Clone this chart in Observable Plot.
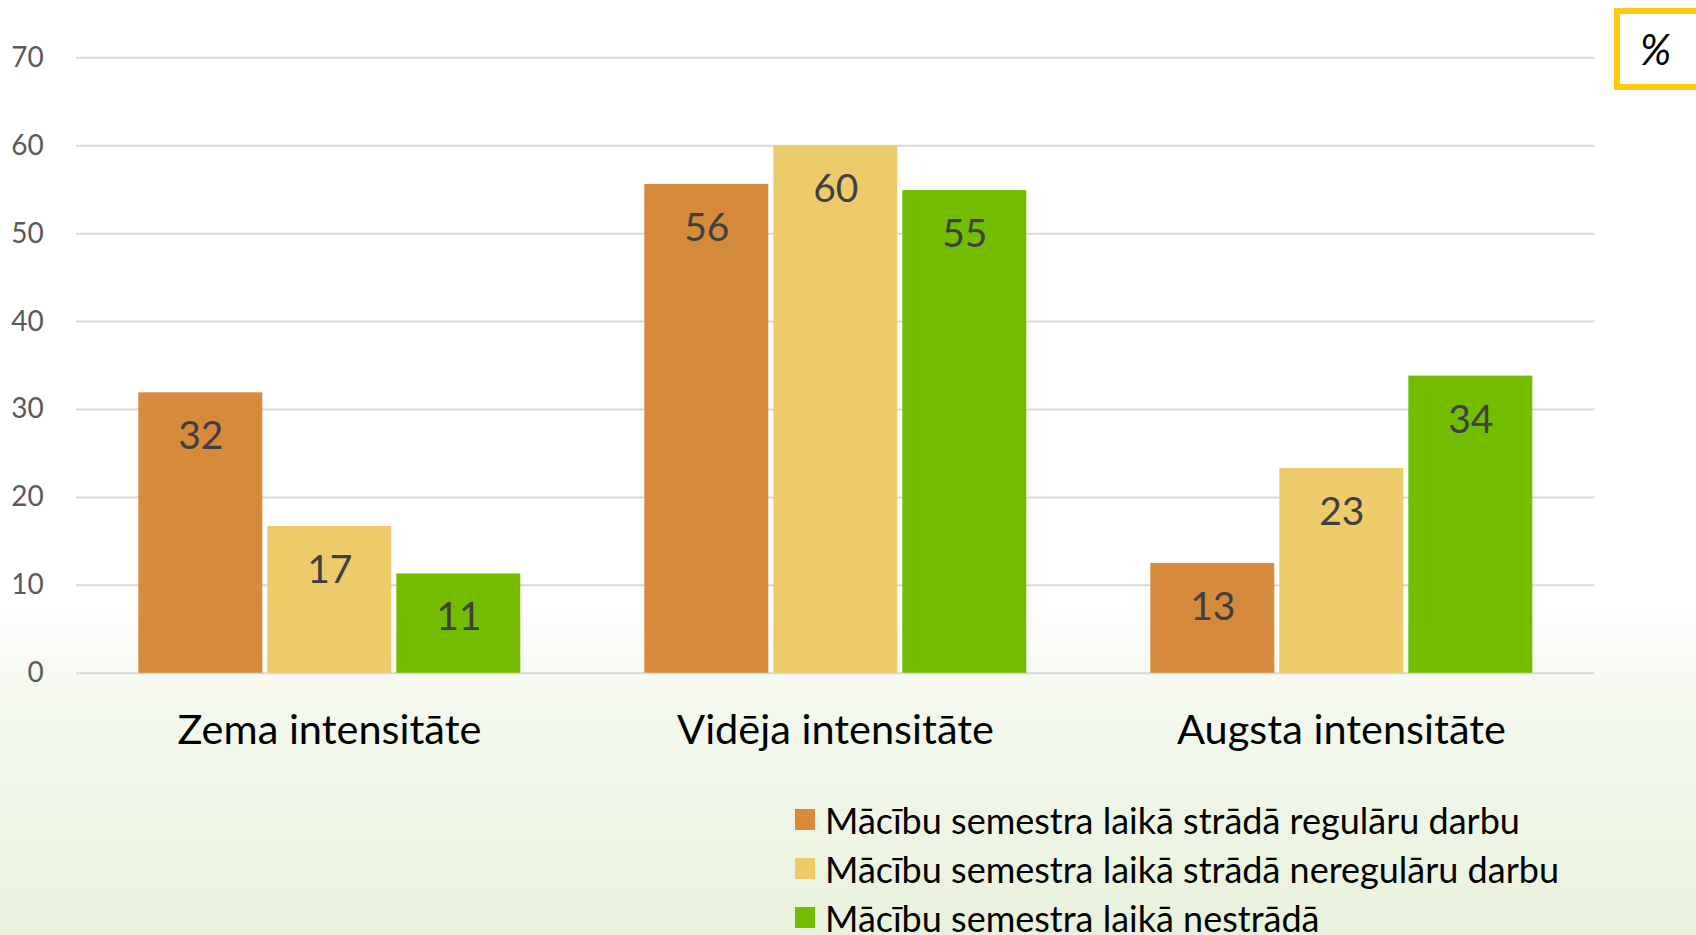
<!DOCTYPE html>
<html>
<head>
<meta charset="utf-8">
<script src="https://cdn.jsdelivr.net/npm/d3@7"></script>
<script src="https://cdn.jsdelivr.net/npm/@observablehq/plot@0.6"></script>
<style>
  html, body { margin: 0; padding: 0; }
  body {
    width: 1696px; height: 935px; overflow: hidden;
    background: linear-gradient(to bottom, #ffffff 0%, #ffffff 65%, #f5f9f0 73%, #e9f2dc 100%);
    font-family: Lato, "Noto Sans", sans-serif;
    position: relative;
  }
  #chart { position: absolute; left: 0; top: 0; }
  #pct {
    position: absolute; left: 1614px; top: 8px; width: 100px; height: 70px;
    border: 6px solid #FFC90E; box-sizing: content-box;
  }
  #pct span {
    position: absolute; left: 20px; top: 10px; font-size: 42px; color: #000;
    font-family: Lato, sans-serif; font-style: italic; line-height: 50px;
  }
  #legend { position: absolute; left: 795px; top: 795px; }
  .item { display: flex; align-items: center; height: 49px; }
  .sw { width: 20px; height: 21px; margin-right: 10px; }
  .lab { font-size: 36px; color: #000; white-space: nowrap; }
</style>
</head>
<body>
<div id="chart"></div>
<div id="pct"><span>%</span></div>
<div id="legend"></div>
<script>
const groups = ["Zema intensitāte", "Vidēja intensitāte", "Augsta intensitāte"];
const seriesNames = [
  "Mācību semestra laikā strādā regulāru darbu",
  "Mācību semestra laikā strādā neregulāru darbu",
  "Mācību semestra laikā nestrādā"
];
const colors = ["#D68A3C", "#EDCB6B", "#74BC00"];
const regular = [31.9, 55.6, 12.5];
const irregular = [16.7, 60.0, 23.3];
const notWorking = [11.3, 54.9, 33.8];
const yTicks = [0, 10, 20, 30, 40, 50, 60, 70];

const seriesValues = [regular, irregular, notWorking];
const data = [];
groups.forEach((g, gi) => {
  seriesNames.forEach((s, si) => {
    data.push({group: g, series: s, value: seriesValues[si][gi]});
  });
});

const W = 1696, H = 780;
const plot = Plot.plot({
  width: W,
  height: H,
  marginLeft: 75.7,
  marginRight: 102,
  marginTop: 57.3,
  marginBottom: H - 672.8,
  style: {fontFamily: "Lato, 'Noto Sans', sans-serif", background: "transparent", overflow: "visible"},
  fx: {domain: groups, padding: 0, label: null},
  x: {domain: seriesNames, paddingInner: 0.04, paddingOuter: 0.477, axis: null},
  y: {domain: [0, 70], label: null},
  color: {domain: seriesNames, range: colors},
  marks: [
    Plot.ruleY(yTicks, {stroke: "#d9d9d9", strokeWidth: 2}),
    Plot.barY(data, {fx: "group", x: "series", y: "value", fill: "series"}),
    Plot.text(data, {fx: "group", x: "series", y: "value", text: d => String(Math.round(d.value)), dy: 44, fontSize: 39, fill: "#404040"}),
    Plot.axisY({ticks: yTicks, tickSize: 0, tickPadding: 32.7, fontSize: 28, fill: "#595959", label: null}),
    Plot.axisFx({anchor: "bottom", tickSize: 0, tickPadding: 41, fontSize: 41.5, fill: "#000", label: null})
  ]
});
document.getElementById("chart").appendChild(plot);

const legend = document.getElementById("legend");
seriesNames.forEach((s, i) => {
  const item = document.createElement("div");
  item.className = "item";
  const sw = document.createElement("div");
  sw.className = "sw";
  sw.style.background = colors[i];
  const lab = document.createElement("div");
  lab.className = "lab";
  lab.textContent = s;
  item.appendChild(sw);
  item.appendChild(lab);
  legend.appendChild(item);
});
</script>
</body>
</html>
